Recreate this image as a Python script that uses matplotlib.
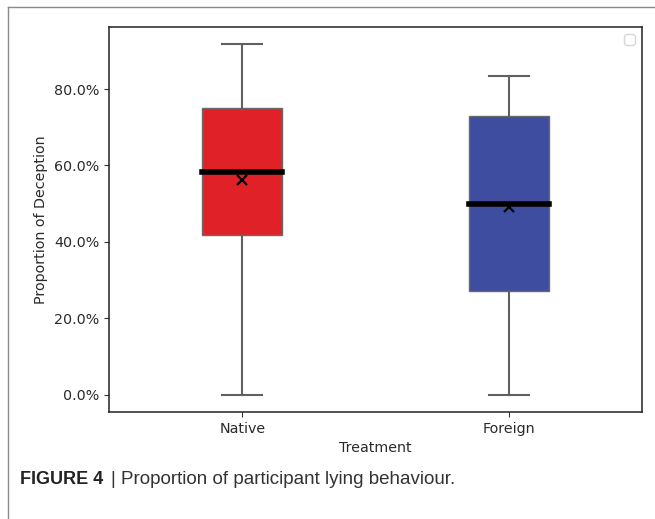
import matplotlib
matplotlib.use('Agg')
import matplotlib.pyplot as plt
from matplotlib.ticker import PercentFormatter
from matplotlib.lines import Line2D

categories = ['Native', 'Foreign']
whisker_low = [0.0, 0.0]
q1 = [0.4167, 0.2708]
median = [0.5833, 0.5000]
q3 = [0.7500, 0.7292]
whisker_high = [0.9167, 0.8333]
mean = [0.5620, 0.4920]
box_colors = ['#E02228', '#3E4D9F']

W, H = 655, 519
fig = plt.figure(figsize=(W / 100, H / 100), dpi=100)
ax = fig.add_axes([109 / W, 1 - 412 / H, (642 - 109) / W, (412 - 27) / H])

stats = [dict(label=c, whislo=wl, q1=a, med=m, q3=b, whishi=wh, mean=mn, fliers=[])
         for c, wl, a, m, b, wh, mn in zip(categories, whisker_low, q1, median, q3, whisker_high, mean)]

bp = ax.bxp(stats, positions=range(len(categories)), widths=0.3, showmeans=True,
            patch_artist=True,
            boxprops=dict(edgecolor='#6a6a6a', linewidth=1.0),
            whiskerprops=dict(color='#606060', linewidth=1.5),
            capprops=dict(color='#606060', linewidth=1.5),
            medianprops=dict(color='black', linewidth=4, solid_capstyle='projecting'),
            meanprops=dict(marker='x', markeredgecolor='black', markerfacecolor='black',
                           markersize=7, markeredgewidth=1.6))
for patch, col in zip(bp['boxes'], box_colors):
    patch.set_facecolor(col)

ax.set_xlim(-0.5, 1.5)
ax.set_ylim(-0.0458, 0.9625)
ax.set_yticks([0, 0.2, 0.4, 0.6, 0.8])
ax.yaxis.set_major_formatter(PercentFormatter(1.0, decimals=1))
ax.set_xticks(range(len(categories)))
ax.set_xticklabels(categories)
ax.tick_params(labelsize=10.3, colors='#333333', labelcolor='#2a2a2a')
for s in ax.spines.values():
    s.set_color('#222222')
    s.set_linewidth(1.1)
ax.set_xlabel('Treatment', fontsize=10.3, color='#2a2a2a')
ax.set_ylabel('Proportion of Deception', fontsize=10.3, color='#2a2a2a')
ax.legend(handles=[], loc='upper right')

# outer frame of the published figure
fig.add_artist(Line2D([8 / W, 1], [1 - 7 / H, 1 - 7 / H], color='#8a8a8a', lw=1.0,
                      transform=fig.transFigure))
fig.add_artist(Line2D([8 / W, 8 / W], [0, 1 - 7 / H], color='#8a8a8a', lw=1.0,
                      transform=fig.transFigure))

cap_y = 1 - 480 / H
fig.text(20 / W, cap_y, 'FIGURE 4', fontsize=13, fontweight='bold', va='center',
         family=['Liberation Sans Narrow', 'Liberation Sans'], color='#222222')
fig.text(110 / W, cap_y, '|', fontsize=13.5, va='center', family='Liberation Sans', color='#333333')
fig.text(121 / W, cap_y, 'Proportion of participant lying behaviour.', fontsize=13.5,
         va='center', family='Liberation Sans', color='#333333')

fig.savefig('out.png', dpi=100)
